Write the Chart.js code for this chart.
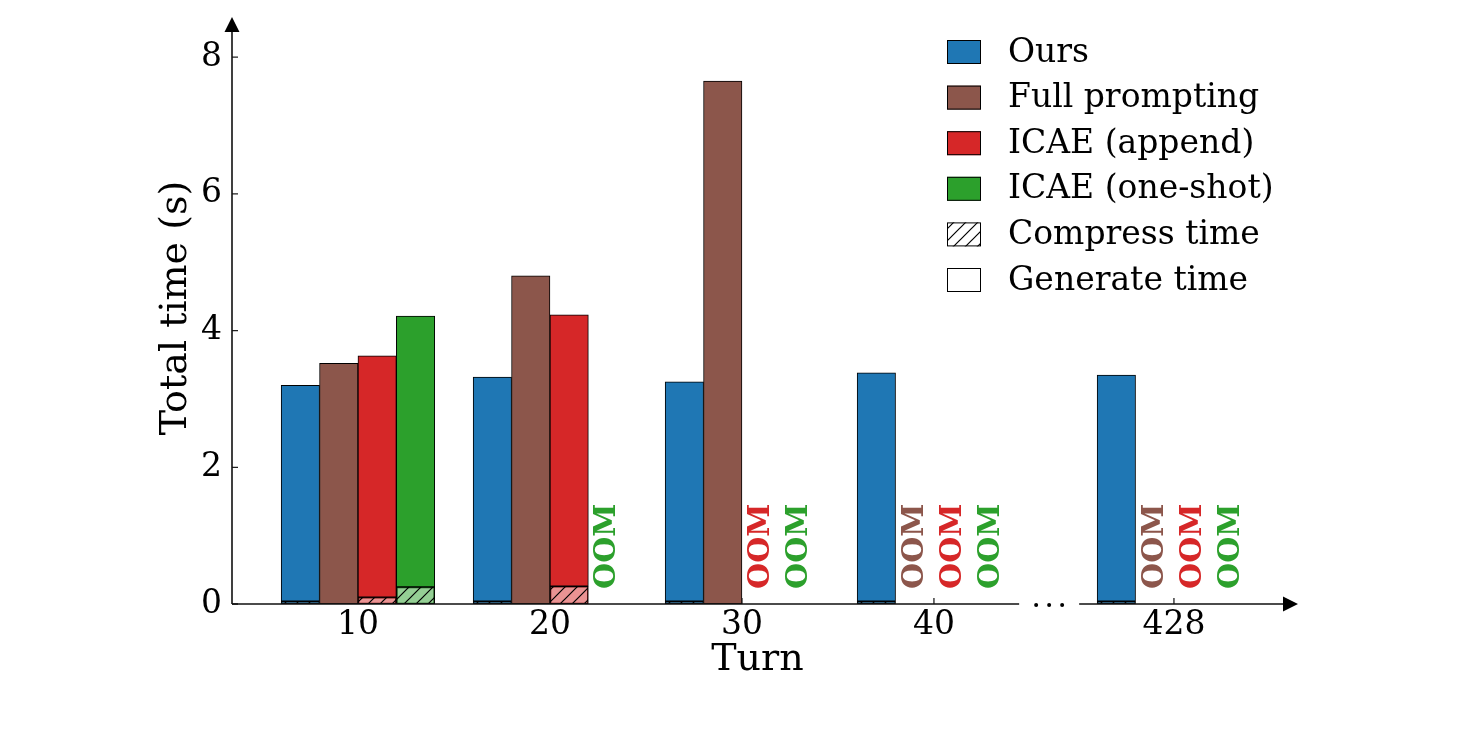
<!DOCTYPE html>
<html lang="en">
<head>
<meta charset="UTF-8">
<title>Total time per turn</title>
<script src="https://cdn.jsdelivr.net/npm/chart.js"></script>
<style>
  html, body { margin: 0; padding: 0; background: #fff; }
</style>
</head>
<body>
<canvas id="timeChart" width="1458" height="732"></canvas>
<script>
const turns = ['10', '20', '30', '40', '428'];
const turnPos = [0, 1, 2, 3, 4.25];
const seriesNames = ['Ours', 'Full prompting', 'ICAE (append)', 'ICAE (one-shot)'];
const partNames = ['Compress time', 'Generate time'];
// total time (s) per turn, null = OOM
const oursTotal = [3.20, 3.32, 3.25, 3.38, 3.35];
const fullTotal = [3.52, 4.80, 7.65, null, null];
const appendTotal = [3.63, 4.23, null, null, null];
const oneShotTotal = [4.21, null, null, null, null];
// compress part of the total (s)
const oursCompress = [0.04, 0.04, 0.04, 0.04, 0.04];
const fullCompress = [0, 0, 0, null, null];
const appendCompress = [0.10, 0.26, null, null, null];
const oneShotCompress = [0.25, null, null, null, null];
const yTicks = [0, 2, 4, 6, 8];

const colors = ['#1f77b4', '#8c564b', '#d62728', '#2ca02c'];
const lightColors = ['rgba(31,119,180,0.5)', 'rgba(140,86,75,0.5)', 'rgba(214,39,40,0.5)', 'rgba(44,160,44,0.5)'];
const FONT = "'DejaVu Serif', serif";
const BAR_W = 0.2;

const totals = [oursTotal, fullTotal, appendTotal, oneShotTotal];
const compress = [oursCompress, fullCompress, appendCompress, oneShotCompress];
const slot = k => (k - 1.5) * BAR_W;

function hatch(bg) {
    const c = document.createElement('canvas');
    c.width = 12; c.height = 12;
    const g = c.getContext('2d');
    g.fillStyle = bg;
    g.fillRect(0, 0, 12, 12);
    g.strokeStyle = '#000';
    g.lineWidth = 1.2;
    g.beginPath();
    g.moveTo(-1, 13); g.lineTo(13, -1);
    g.moveTo(-7, 7); g.lineTo(7, -7);
    g.moveTo(5, 19); g.lineTo(19, 5);
    g.stroke();
    return g.createPattern(c, 'repeat');
}

const datasets = [];
seriesNames.forEach((name, k) => {
    datasets.push({
        label: name,
        data: turnPos.map((p, i) => totals[k][i] == null ? null :
            { x: p + slot(k), y: [compress[k][i] || 0, totals[k][i]] }).filter(Boolean),
        backgroundColor: colors[k]
    });
    datasets.push({
        label: name + ' compress',
        data: turnPos.map((p, i) => !compress[k][i] ? null :
            { x: p + slot(k), y: [0, compress[k][i]] }).filter(Boolean),
        backgroundColor: hatch(lightColors[k])
    });
});

// axes with arrows, x-axis break, inward ticks, OOM marks, legend
const decor = {
    id: 'decor',
    beforeDatasetsDraw(chart) {
        const { ctx, scales: { x, y } } = chart;
        const y0 = y.getPixelForValue(0);
        ctx.save();
        ctx.strokeStyle = '#222';
        ctx.lineWidth = 1.3;
        ctx.beginPath();
        y.ticks.forEach(t => {
            const py = y.getPixelForValue(t.value);
            ctx.moveTo(x.left, py); ctx.lineTo(x.left + 6, py);
        });
        x.ticks.forEach(t => {
            const px = x.getPixelForValue(t.value);
            ctx.moveTo(px, y0); ctx.lineTo(px, y0 - 6);
        });
        ctx.stroke();
        ctx.restore();
    },
    afterDatasetsDraw(chart) {
        const { ctx, chartArea: a, scales: { x, y } } = chart;
        const y0 = y.getPixelForValue(0);
        ctx.save();
        // OOM labels
        ctx.font = 'bold 30px ' + FONT;
        ctx.textAlign = 'left';
        ctx.textBaseline = 'middle';
        totals.forEach((tot, k) => tot.forEach((v, i) => {
            if (v != null) return;
            ctx.save();
            ctx.translate(x.getPixelForValue(turnPos[i] + slot(k)), y.getPixelForValue(0.22));
            ctx.rotate(-Math.PI / 2);
            ctx.fillStyle = colors[k];
            ctx.fillText('OOM', 0, 0);
            ctx.restore();
        }));

        // axis lines
        const brk = x.getPixelForValue(turnPos[3] + 0.6);
        ctx.strokeStyle = '#111';
        ctx.fillStyle = '#000';
        ctx.lineWidth = 1.6;
        ctx.beginPath();
        ctx.moveTo(a.left, y0); ctx.lineTo(a.left, a.top + 20);
        ctx.moveTo(a.left, y0); ctx.lineTo(brk - 30, y0);
        ctx.moveTo(brk + 30, y0); ctx.lineTo(a.right, y0);
        ctx.stroke();
        ctx.beginPath();
        ctx.moveTo(a.left - 7.5, a.top + 20); ctx.lineTo(a.left + 7.5, a.top + 20); ctx.lineTo(a.left, a.top + 5);
        ctx.closePath();
        ctx.moveTo(a.right, y0 - 7.5); ctx.lineTo(a.right, y0 + 7.5); ctx.lineTo(a.right + 15, y0);
        ctx.closePath();
        ctx.fill();
        [-13, 0, 13].forEach(d => {
            ctx.beginPath();
            ctx.arc(brk + d, y0 + 1, 2, 0, Math.PI * 2);
            ctx.fill();
        });

        // legend
        const lx = 947, ly = 52, step = 45.6;
        const handles = colors.concat([hatch('#fff'), '#fff']);
        const labels = seriesNames.concat(partNames);
        ctx.font = '33px ' + FONT;
        ctx.textBaseline = 'middle';
        ctx.lineWidth = 1;
        labels.forEach((lab, j) => {
            const cy = ly + j * step;
            ctx.fillStyle = handles[j];
            ctx.fillRect(lx, cy - 12, 34, 24);
            ctx.strokeStyle = '#000';
            ctx.strokeRect(lx + 0.5, cy - 11.5, 33, 23);
            ctx.fillStyle = '#000';
            ctx.fillText(lab, lx + 61, cy + 1);
        });
        ctx.restore();
    }
};

Chart.defaults.font.family = FONT;
Chart.defaults.color = '#000';

new Chart(document.getElementById('timeChart'), {
    type: 'bar',
    data: { datasets },
    options: {
        responsive: false,
        animation: false,
        devicePixelRatio: 1,
        layout: { padding: { left: 0, top: 12, right: 175, bottom: 0 } },
        datasets: {
            bar: {
                grouped: false,
                barPercentage: 1,
                categoryPercentage: 1,
                borderColor: '#000',
                borderWidth: 1,
                borderSkipped: false
            }
        },
        plugins: { legend: { display: false }, tooltip: { enabled: false } },
        scales: {
            x: {
                type: 'linear',
                offset: false,
                min: -0.656,
                max: 4.818,
                grid: { display: false, drawTicks: false },
                border: { display: false },
                afterBuildTicks: s => { s.ticks = turnPos.map(v => ({ value: v })); },
                afterFit: s => { s.height = 128; s.paddingLeft = 0; s.paddingRight = 0; },
                ticks: {
                    autoSkip: false,
                    maxRotation: 0,
                    padding: 2,
                    font: { size: 33 },
                    callback: v => turns[turnPos.indexOf(v)]
                },
                title: { display: true, text: 'Turn', font: { size: 38 }, padding: { top: 0, bottom: 49 } }
            },
            y: {
                min: 0,
                max: 8.66,
                grid: { display: false, drawTicks: false },
                border: { display: false },
                afterBuildTicks: s => { s.ticks = yTicks.map(v => ({ value: v })); },
                afterFit: s => { s.width = 232; s.paddingTop = 0; s.paddingBottom = 0; },
                ticks: { padding: 10, font: { size: 33 } },
                title: { display: true, text: 'Total time (s)', font: { size: 38 }, padding: { top: 153, bottom: 0 } }
            }
        }
    },
    plugins: [decor]
});
</script>
</body>
</html>
